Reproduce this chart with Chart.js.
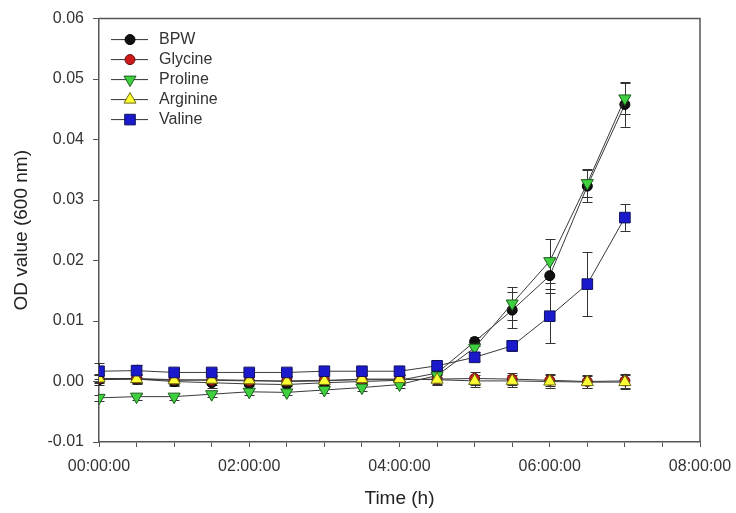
<!DOCTYPE html>
<html>
<head>
<meta charset="utf-8">
<script src="https://cdn.jsdelivr.net/npm/chart.js@4/dist/chart.umd.min.js"></script>
<style>
    html, body { margin: 0; padding: 0; background: #fff; }
    #wrap { width: 736px; height: 513px; }
</style>
</head>
<body>
<div id="wrap"><canvas id="odChart" width="736" height="513"></canvas></div>
<script>
// sampling times (hours)
const times = [0, 0.5, 1, 1.5, 2, 2.5, 3, 3.5, 4, 4.5, 5, 5.5, 6, 6.5, 7];

const seriesNames = ['BPW', 'Glycine', 'Proline', 'Arginine', 'Valine'];

const bpw = [0.0003, 0.0004, 0.0000, -0.0002, -0.0004, -0.0005, -0.0002, 0.0000, 0.0002, 0.0014, 0.0066, 0.0118, 0.0175, 0.0323, 0.0458];
const bpwErr = [0.0008, 0.0008, 0.0008, 0.0008, 0.0008, 0.0008, 0.0008, 0.0006, 0.0006, 0.0006, 0.0008, 0.0030, 0.0028, 0.0027, 0.0037];

const glycine = [0.0005, 0.0005, 0.0003, 0.0002, 0.0001, 0.0001, 0.0002, 0.0003, 0.0003, 0.0004, 0.0005, 0.0004, 0.0002, 0.0000, 0.0001];
const glycineErr = [0.0008, 0.0008, 0.0008, 0.0008, 0.0008, 0.0008, 0.0008, 0.0008, 0.0008, 0.0008, 0.0010, 0.0010, 0.0010, 0.0010, 0.0012];

const proline = [-0.0027, -0.0025, -0.0025, -0.0021, -0.0017, -0.0018, -0.0014, -0.0010, -0.0005, 0.0010, 0.0056, 0.0129, 0.0199, 0.0328, 0.0468];
const prolineErr = [0.0005, 0.0005, 0.0005, 0.0005, 0.0005, 0.0005, 0.0005, 0.0005, 0.0005, 0.0006, 0.0008, 0.0027, 0.0036, 0.0023, 0.0025];

const arginine = [0.0005, 0.0004, 0.0002, 0.0003, 0.0002, 0.0000, 0.0001, 0.0004, 0.0004, 0.0003, 0.0001, 0.0001, 0.0000, -0.0001, -0.0001];
const arginineErr = [0.0006, 0.0006, 0.0006, 0.0006, 0.0006, 0.0006, 0.0006, 0.0006, 0.0006, 0.0008, 0.0010, 0.0010, 0.0010, 0.0010, 0.0012];

const valine = [0.0017, 0.0018, 0.0015, 0.0015, 0.0015, 0.0015, 0.0017, 0.0017, 0.0017, 0.0026, 0.0040, 0.0059, 0.0108, 0.0161, 0.0271];
const valineErr = [0.0013, 0.0010, 0.0006, 0.0006, 0.0006, 0.0006, 0.0008, 0.0004, 0.0004, 0.0004, 0.0006, 0.0008, 0.0045, 0.0053, 0.0022];

const yTicks = [-0.01, 0, 0.01, 0.02, 0.03, 0.04, 0.05, 0.06];

const allValues = [bpw, glycine, proline, arginine, valine];
const allErrors = [bpwErr, glycineErr, prolineErr, arginineErr, valineErr];

const markerFill = ['#111111', '#cc1a1a', '#3fd03f', '#ffff33', '#1a1acc'];
const markerEdge = ['#000000', '#6a1010', '#1d5e1d', '#6a6a10', '#10105e'];
const markerStyle = ['circle', 'circle', 'triangle', 'triangle', 'rect'];
const markerRot = [0, 0, 180, 0, 0];
const markerRadius = [5, 5, 7, 7, 7.5];

const fontFamily = '"Liberation Sans", Arial, sans-serif';

function toPoints(vals) {
    return vals.map((v, i) => ({ x: times[i], y: v }));
}

function fmtTime(h) {
    const hh = String(Math.floor(h)).padStart(2, '0');
    return hh + ':00:00';
}

// error bars drawn under the markers
const errorBars = {
    id: 'errorBars',
    beforeDatasetsDraw(chart) {
        const ctx = chart.ctx;
        const xs = chart.scales.x;
        const ys = chart.scales.y;
        ctx.save();
        ctx.strokeStyle = '#333';
        ctx.lineWidth = 1;
        allValues.forEach((vals, s) => {
            vals.forEach((v, i) => {
                const e = allErrors[s][i];
                const x = Math.round(xs.getPixelForValue(times[i])) + 0.5;
                const y1 = ys.getPixelForValue(v + e);
                const y2 = ys.getPixelForValue(v - e);
                ctx.beginPath();
                ctx.moveTo(x, y1);
                ctx.lineTo(x, y2);
                ctx.moveTo(x - 5, Math.round(y1) + 0.5);
                ctx.lineTo(x + 5, Math.round(y1) + 0.5);
                ctx.moveTo(x - 5, Math.round(y2) + 0.5);
                ctx.lineTo(x + 5, Math.round(y2) + 0.5);
                ctx.stroke();
            });
        });
        ctx.restore();
    }
};

function drawMarker(ctx, s, x, y) {
    const r = markerRadius[s];
    ctx.fillStyle = markerFill[s];
    ctx.strokeStyle = markerEdge[s];
    ctx.lineWidth = 1;
    ctx.beginPath();
    if (markerStyle[s] === 'circle') {
        ctx.arc(x, y, r, 0, Math.PI * 2);
    } else if (markerStyle[s] === 'rect') {
        const h = r * Math.SQRT1_2;
        ctx.rect(x - h, y - h, 2 * h, 2 * h);
    } else {
        const dir = markerRot[s] === 180 ? -1 : 1;
        ctx.moveTo(x, y - dir * r);
        ctx.lineTo(x - r * 0.866, y + dir * r * 0.5);
        ctx.lineTo(x + r * 0.866, y + dir * r * 0.5);
        ctx.closePath();
    }
    ctx.fill();
    ctx.stroke();
}

// frame + legend with line through marker
const frameLegend = {
    id: 'frameLegend',
    afterDraw(chart) {
        const ctx = chart.ctx;
        const a = chart.chartArea;
        ctx.save();
        ctx.strokeStyle = '#555';
        ctx.lineWidth = 1.5;
        ctx.beginPath();
        ctx.moveTo(a.left, a.top);
        ctx.lineTo(a.right, a.top);
        ctx.lineTo(a.right, a.bottom);
        ctx.stroke();

        ctx.font = '16px ' + fontFamily;
        ctx.textBaseline = 'middle';
        seriesNames.forEach((name, s) => {
            const y = a.top + 21 + s * 20;
            ctx.strokeStyle = '#333';
            ctx.lineWidth = 1;
            ctx.beginPath();
            ctx.moveTo(a.left + 12, y);
            ctx.lineTo(a.left + 49, y);
            ctx.stroke();
            drawMarker(ctx, s, a.left + 31, y);
            ctx.fillStyle = '#333';
            ctx.fillText(name, a.left + 60, y);
        });
        ctx.restore();
    }
};

const datasets = allValues.map((vals, s) => ({
    label: seriesNames[s],
    data: toPoints(vals),
    borderColor: '#3a3a3a',
    borderWidth: 1,
    backgroundColor: markerFill[s],
    pointBackgroundColor: markerFill[s],
    pointBorderColor: markerEdge[s],
    pointBorderWidth: 1,
    pointStyle: markerStyle[s],
    rotation: markerRot[s],
    pointRadius: markerRadius[s],
    pointHoverRadius: markerRadius[s],
    tension: 0,
    order: seriesNames.length - s
}));

new Chart(document.getElementById('odChart'), {
    type: 'line',
    data: { datasets: datasets },
    plugins: [errorBars, frameLegend],
    options: {
        responsive: false,
        animation: false,
        layout: { padding: { top: 16, right: 36, bottom: 0, left: 0 } },
        plugins: {
            legend: { display: false },
            tooltip: { enabled: false }
        },
        scales: {
            x: {
                type: 'linear',
                min: 0,
                max: 8,
                afterFit(scale) {
                    scale.height = 71;
                    scale.paddingLeft = 0;
                    scale.paddingRight = 0;
                },
                border: { color: '#555', width: 1.5 },
                grid: { drawOnChartArea: false, tickLength: 5, color: '#555' },
                ticks: {
                    stepSize: 0.5,
                    autoSkip: false,
                    maxRotation: 0,
                    color: '#333',
                    padding: 10,
                    font: { family: fontFamily, size: 16 },
                    callback: v => (v % 2 === 0 ? fmtTime(v) : '')
                },
                title: {
                    display: true,
                    text: 'Time (h)',
                    color: '#222',
                    font: { family: fontFamily, size: 19 },
                    padding: { top: 4, bottom: 3 }
                }
            },
            y: {
                min: -0.01,
                max: 0.06,
                afterFit(scale) { scale.width = 99; },
                afterBuildTicks(scale) { scale.ticks = yTicks.map(v => ({ value: v })); },
                border: { color: '#555', width: 1.5 },
                grid: { drawOnChartArea: false, tickLength: 6, color: '#555' },
                ticks: {
                    color: '#333',
                    padding: 9,
                    font: { family: fontFamily, size: 16 },
                    callback: v => v.toFixed(2)
                },
                title: {
                    display: true,
                    text: 'OD value (600 nm)',
                    color: '#222',
                    font: { family: fontFamily, size: 19 },
                    padding: { top: 10, bottom: 4 }
                }
            }
        }
    }
});
</script>
</body>
</html>
